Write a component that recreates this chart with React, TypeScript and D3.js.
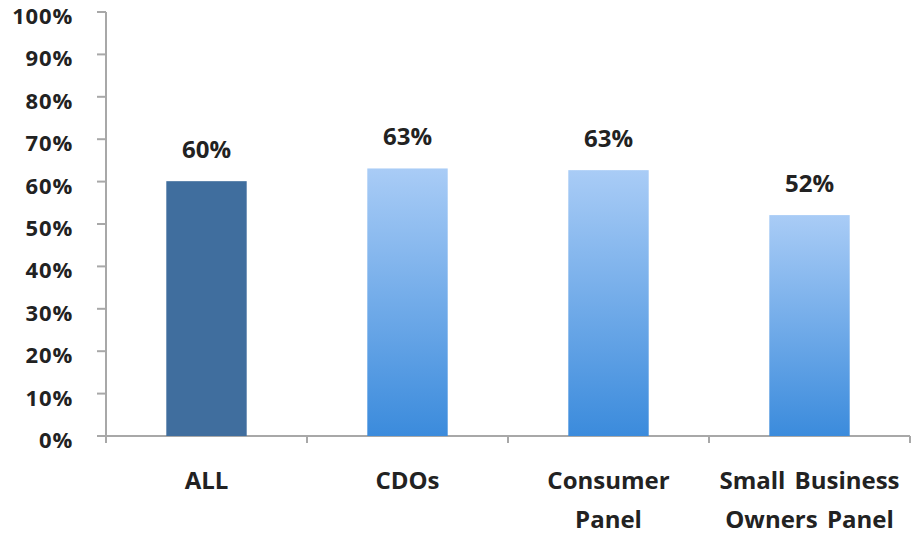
import React from "react";
import * as d3 from "d3";

const categories: string[][] = [["ALL"], ["CDOs"], ["Consumer", "Panel"], ["Small Business", "Owners Panel"]];
const values: number[] = [60.1, 63.1, 62.7, 52.1];
const valueLabels: string[] = ["60%", "63%", "63%", "52%"];
const yTicks: number[] = [0, 10, 20, 30, 40, 50, 60, 70, 80, 90, 100];

const W = 915;
const H = 535;
const left = 106;
const right = 910;
const top = 12;
const bottom = 436;
const FONT = "'Open Sans', Lato, sans-serif";

export default function App() {
  const x = d3.scaleBand<number>().domain(d3.range(categories.length)).range([left, right]).paddingInner(0.6).paddingOuter(0.3);
  const xb = d3.scaleLinear().domain([0, categories.length]).range([left, right]);
  const y = d3.scaleLinear().domain([0, 100]).range([bottom, top]);
  return (
    <svg width={W} height={H} style={{ position: "absolute", left: 0, top: 0, background: "#fff" }}>
      <defs>
        <linearGradient id="g" x1="0" y1="0" x2="0" y2="1">
          <stop offset="0" stopColor="#a9ccf6" />
          <stop offset="1" stopColor="#3b8bdc" />
        </linearGradient>
      </defs>
      {/* y axis */}
      <line x1={left} x2={left} y1={top} y2={bottom} stroke="#a8a8a8" strokeWidth={2} />
      {yTicks.map((t) => (
        <g key={t}>
          <line x1={left - 9} x2={left} y1={y(t)} y2={y(t)} stroke="#a8a8a8" strokeWidth={2} />
          <text x={73} y={y(t) + 12} textAnchor="end" fontFamily={FONT} fontWeight={700} fontSize={22} letterSpacing={0.8} fill="#222">
            {t}%
          </text>
        </g>
      ))}
      {/* x axis */}
      <line x1={left - 9} x2={right} y1={bottom} y2={bottom} stroke="#a8a8a8" strokeWidth={2} />
      {d3.range(categories.length + 1).map((i) => (
        <line key={i} x1={xb(i)} x2={xb(i)} y1={bottom} y2={bottom + 7} stroke="#a8a8a8" strokeWidth={2} />
      ))}
      {values.map((v, i) => (
        <g key={i}>
          <rect x={x(i)!} width={x.bandwidth()} y={y(v)} height={bottom - y(v)} fill={i === 0 ? "#406e9e" : "url(#g)"} />
          <text x={x(i)! + x.bandwidth() / 2} y={y(v) - 23} textAnchor="middle" fontFamily={FONT} fontWeight={700} fontSize={24} fill="#222">
            {valueLabels[i]}
          </text>
          {categories[i].map((line, j) => (
            <text key={j} x={x(i)! + x.bandwidth() / 2} y={489 + j * 39} textAnchor="middle" fontFamily={FONT} fontWeight={700} fontSize={24} wordSpacing={3} fill="#222">
              {line}
            </text>
          ))}
        </g>
      ))}
    </svg>
  );
}
